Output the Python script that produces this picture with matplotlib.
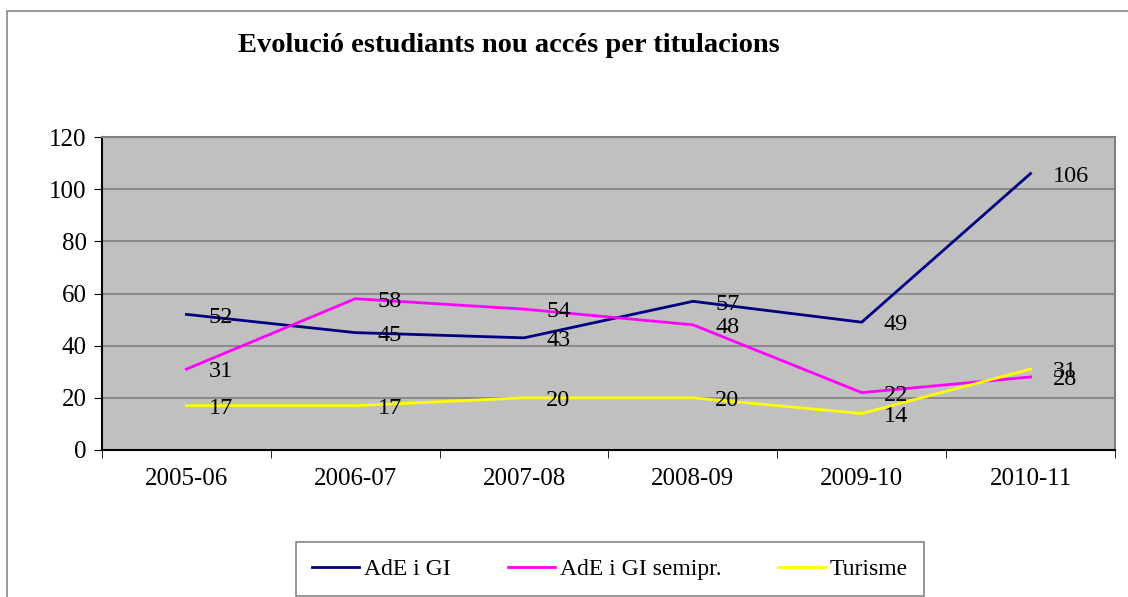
import matplotlib.pyplot as plt
from matplotlib.patches import Rectangle
import numpy as np

cursos = ['2005-06', '2006-07', '2007-08', '2008-09', '2009-10', '2010-11']
ade_gi = [52, 45, 43, 57, 49, 106]
ade_gi_semipr = [31, 58, 54, 48, 22, 28]
turisme = [17, 17, 20, 20, 14, 31]

series = [('AdE i GI', ade_gi, '#000080'),
          ('AdE i GI semipr.', ade_gi_semipr, '#FF00FF'),
          ('Turisme', turisme, '#FFFF00')]

plt.rcParams['font.family'] = ['Liberation Serif', 'DejaVu Serif']

fig = plt.figure(figsize=(11.28, 5.97), dpi=100)
# marc exterior del grafic
fig.patches.append(Rectangle((7 / 1128, -0.05), 1.2, 1 - 11 / 597 + 0.05,
                             transform=fig.transFigure, fill=False,
                             edgecolor='#888888', linewidth=1.2))

ax = fig.add_axes([102 / 1128, 1 - 450 / 597, 1013 / 1128, 313 / 597])
ax.set_facecolor('#C0C0C0')

x = np.arange(len(cursos))
for nom, vals, col in series:
    ax.plot(x, vals, color=col, linewidth=2, label=nom)
    for xi, v in zip(x, vals):
        ax.annotate(str(v), (xi, v), xytext=(16, -2), textcoords='offset points',
                    fontsize=17.5, va='center', ha='left', color='black')

ax.set_xlim(-0.5, len(cursos) - 0.5)
ax.set_ylim(0, 120)
ax.set_yticks(range(0, 121, 20))
ax.yaxis.grid(True, color='#808080', linewidth=1.2)
ax.set_axisbelow(True)
ax.tick_params(axis='y', labelsize=18, length=6, direction='out', pad=5)

ax.set_xticks(x)
ax.set_xticklabels(cursos, fontsize=18)
ax.set_xticks(np.arange(-0.5, len(cursos)), minor=True)
ax.tick_params(axis='x', which='major', length=0, pad=13)
ax.tick_params(axis='x', which='minor', length=6, direction='out')

for s in ['left', 'bottom']:
    ax.spines[s].set_color('black')
    ax.spines[s].set_linewidth(1.5)
for s in ['top', 'right']:
    ax.spines[s].set_color('#808080')
    ax.spines[s].set_linewidth(1.5)

fig.text(509 / 1128, 1 - 45 / 597, 'Evolució estudiants nou accés per titulacions',
         ha='center', va='center', fontsize=20.5, fontweight='bold')

leg = fig.legend(loc='center', bbox_to_anchor=(610 / 1128, 1 - 569 / 597), ncol=3,
                 fontsize=17, frameon=True, fancybox=False, handlelength=2.0,
                 columnspacing=2.4, handletextpad=0.2, borderpad=0.7)
leg.get_frame().set_edgecolor('#666666')
leg.get_frame().set_linewidth(1.2)

fig.savefig('out.png', dpi=100)
